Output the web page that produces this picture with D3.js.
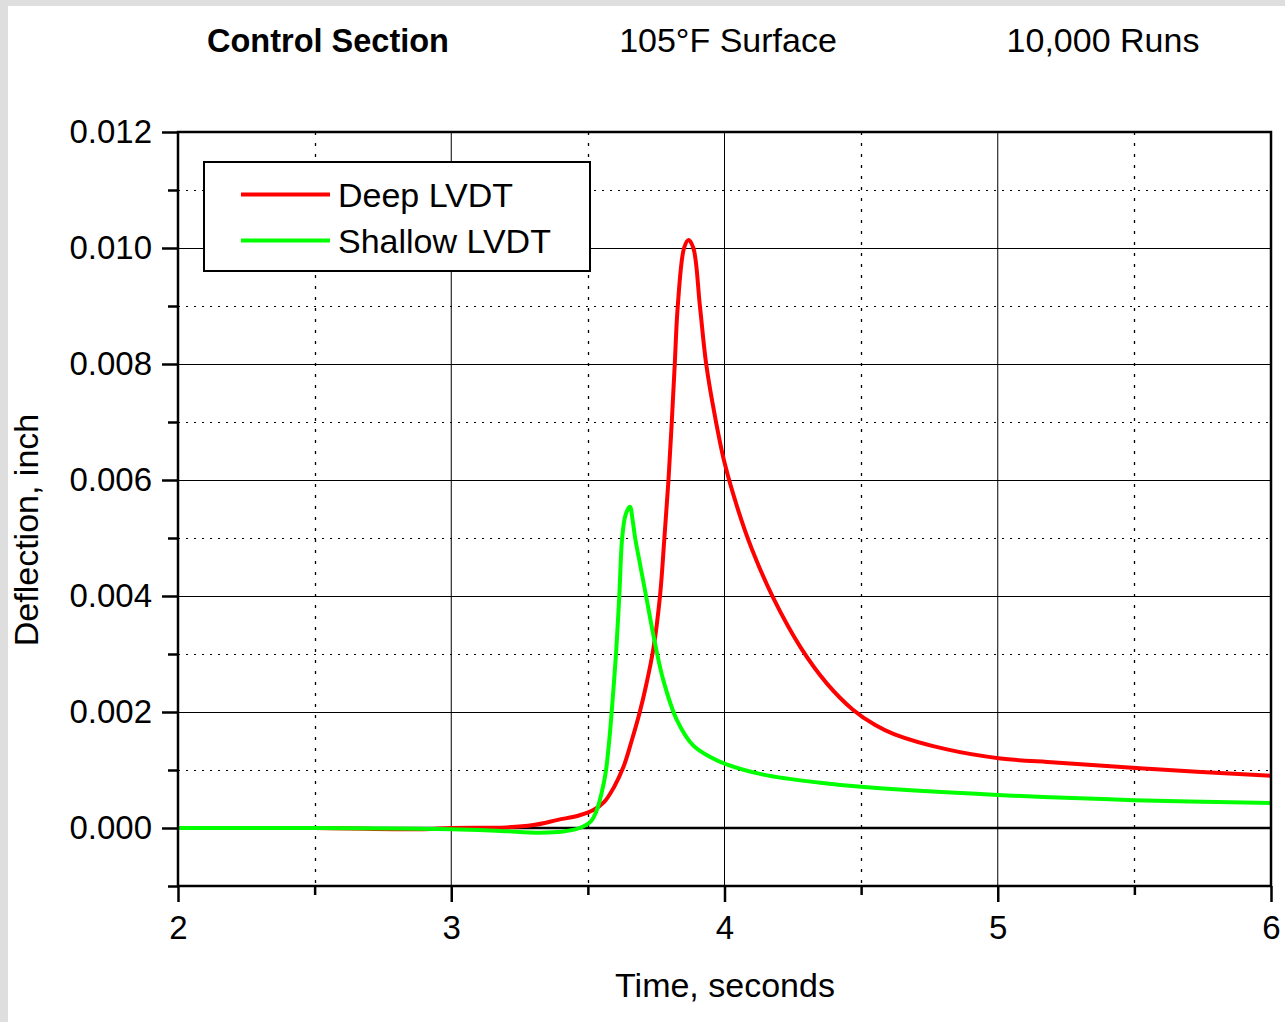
<!DOCTYPE html>
<meta charset="utf-8">
<html>
<head>
    <script src="https://cdnjs.cloudflare.com/ajax/libs/d3/7.8.5/d3.min.js"></script>
    <style type="text/css">
    body {
        margin: 0;
        background-color: #dedede;
        overflow: hidden;
    }
    svg text {
        font-family: "Liberation Sans", Arial, sans-serif;
        font-size: 34px;
        fill: #000;
    }
    </style>
</head>
<body>
<script type="text/javascript">

    // time (s) and deflection (inch)
    var deepTime = [2.0, 2.5, 2.9, 3.0, 3.2, 3.3, 3.39, 3.47, 3.52, 3.56, 3.595, 3.63, 3.66, 3.69, 3.715,
                    3.74, 3.764, 3.78, 3.795, 3.807, 3.818, 3.829, 3.852, 3.868, 3.886, 3.91, 3.933, 3.965,
                    4.0, 4.05, 4.10, 4.177, 4.279, 4.375, 4.47, 4.55, 4.62, 4.81, 5.01, 5.21, 5.52, 6.0];
    var deepDefl = [0, 0, -0.00002, 0, 0.00001, 0.00005, 0.00014, 0.00022, 0.00031, 0.00045, 0.0007, 0.00105, 0.0015, 0.002, 0.0025,
                    0.0031, 0.004, 0.005, 0.006, 0.007, 0.008, 0.009, 0.0100, 0.01014, 0.0100, 0.0090, 0.0080, 0.0071,
                    0.0063, 0.00548, 0.00481, 0.00398, 0.00311, 0.00249, 0.00204, 0.00178, 0.00162, 0.00136, 0.0012, 0.00113, 0.00103, 0.0009];

    var shallowTime = [2.0, 2.5, 3.0, 3.18, 3.325, 3.41, 3.47, 3.51, 3.532, 3.55, 3.565, 3.58, 3.592, 3.603, 3.615,
                       3.6255, 3.638, 3.654, 3.664, 3.673, 3.69, 3.713, 3.745, 3.776, 3.825, 3.886, 3.95, 4.0,
                       4.142, 4.35, 4.5, 5.0, 5.5, 6.0];
    var shallowDefl = [0, 0, -0.00002, -0.00005, -0.00008, -0.00006, 0, 0.00011, 0.0003, 0.0006, 0.00095, 0.0016, 0.0023, 0.003, 0.004,
                       0.005, 0.0054, 0.00554, 0.0053, 0.005, 0.00457, 0.004, 0.0032, 0.00255, 0.00187, 0.00142, 0.00122, 0.00111,
                       0.00092, 0.00078, 0.00071, 0.00057, 0.00048, 0.00043];

    var seriesNames = ["Deep LVDT", "Shallow LVDT"];
    var seriesColors = ["#ff0000", "#00ff00"];

    var xMajor = [2, 3, 4, 5, 6];
    var xMinor = [2.5, 3.5, 4.5, 5.5];
    var yMajor = [0, 0.002, 0.004, 0.006, 0.008, 0.010, 0.012];
    var yMinor = [-0.001, 0.001, 0.003, 0.005, 0.007, 0.009, 0.011];

    var titles = ["Control Section", "105°F Surface", "10,000 Runs"];

    var width = 1285, height = 1022;
    var pLeft = 178, pRight = 1271, pTop = 132, pBottom = 886;

    var svg = d3.select("body")
                .append("svg")
                .attr("width", width)
                .attr("height", height);

    svg.append("rect")
       .attr("x", 8).attr("y", 6)
       .attr("width", width).attr("height", height)
       .attr("fill", "#fff");

    var x = d3.scaleLinear().domain([2, 6]).range([pLeft, pRight]);
    var y = d3.scaleLinear().domain([-0.001, 0.012]).range([pBottom, pTop]);

    // grid
    var grid = svg.append("g").attr("class", "grid");
    grid.selectAll(".hmaj")
        .data(yMajor.filter(function(d) { return d > 0 && d < 0.012; }))
        .enter().append("line")
        .attr("x1", pLeft).attr("x2", pRight)
        .attr("y1", function(d) { return Math.round(y(d)) + 0.5; })
        .attr("y2", function(d) { return Math.round(y(d)) + 0.5; })
        .attr("stroke", "#000").attr("stroke-width", 1);
    grid.selectAll(".hmin")
        .data(yMinor.filter(function(d) { return d > 0; }))
        .enter().append("line")
        .attr("x1", pLeft).attr("x2", pRight)
        .attr("y1", function(d) { return Math.round(y(d)) + 0.5; })
        .attr("y2", function(d) { return Math.round(y(d)) + 0.5; })
        .attr("stroke", "#000").attr("stroke-width", 1)
        .attr("stroke-dasharray", "2,6");
    grid.selectAll(".vmaj")
        .data(xMajor.filter(function(d) { return d > 2 && d < 6; }))
        .enter().append("line")
        .attr("y1", pTop).attr("y2", pBottom)
        .attr("x1", function(d) { return x(d); })
        .attr("x2", function(d) { return x(d); })
        .attr("stroke", "#000").attr("stroke-width", 1);
    grid.selectAll(".vmin")
        .data(xMinor)
        .enter().append("line")
        .attr("y1", pTop).attr("y2", pBottom)
        .attr("x1", function(d) { return Math.round(x(d)) + 0.5; })
        .attr("x2", function(d) { return Math.round(x(d)) + 0.5; })
        .attr("stroke", "#000").attr("stroke-width", 1.3)
        .attr("stroke-dasharray", "3,8");

    // zero line
    svg.append("line")
       .attr("x1", pLeft).attr("x2", pRight)
       .attr("y1", y(0)).attr("y2", y(0))
       .attr("stroke", "#000").attr("stroke-width", 2.5);

    // curves
    svg.append("clipPath").attr("id", "clip")
       .append("rect").attr("x", pLeft).attr("y", pTop)
       .attr("width", pRight - pLeft).attr("height", pBottom - pTop);

    var line = d3.line()
                 .x(function(d) { return x(d[0]); })
                 .y(function(d) { return y(d[1]); })
                 .curve(d3.curveCatmullRom.alpha(0.5));

    var series = [d3.zip(deepTime, deepDefl), d3.zip(shallowTime, shallowDefl)];

    svg.append("g").attr("clip-path", "url(#clip)")
       .selectAll("path")
       .data(series)
       .enter().append("path")
       .attr("d", line)
       .attr("fill", "none")
       .attr("stroke", function(d, i) { return seriesColors[i]; })
       .attr("stroke-width", 4)
       .attr("stroke-linejoin", "round");

    // axes
    var yAxis = d3.axisLeft(y).tickValues(yMajor).tickSize(16).tickSizeOuter(0)
                  .tickPadding(10).tickFormat(d3.format(".3f"));
    var yAxisMinor = d3.axisLeft(y).tickValues(yMinor).tickSize(10).tickSizeOuter(0).tickFormat("");
    var xAxis = d3.axisBottom(x).tickValues(xMajor).tickSize(16).tickSizeOuter(0)
                  .tickPadding(14).tickFormat(d3.format("d"));
    var xAxisMinor = d3.axisBottom(x).tickValues(xMinor).tickSize(9).tickSizeOuter(0).tickFormat("");

    function styleAxis(g) {
        g.select(".domain").remove();
        g.selectAll("line").attr("stroke", "#000").attr("stroke-width", 2.5);
        g.selectAll("text").style("font-size", "33px")
         .style("font-family", "'Liberation Sans', Arial, sans-serif");
    }

    svg.append("g").attr("transform", "translate(" + pLeft + ",0)").call(yAxis).call(styleAxis);
    svg.append("g").attr("transform", "translate(" + pLeft + ",0)").call(yAxisMinor).call(styleAxis);
    svg.append("g").attr("transform", "translate(0," + pBottom + ")").call(xAxis).call(styleAxis);
    svg.append("g").attr("transform", "translate(0," + pBottom + ")").call(xAxisMinor).call(styleAxis);

    // frame
    svg.append("rect")
       .attr("x", pLeft).attr("y", pTop)
       .attr("width", pRight - pLeft).attr("height", pBottom - pTop)
       .attr("fill", "none")
       .attr("stroke", "#000").attr("stroke-width", 2.5);

    // legend
    var legend = svg.append("g").attr("transform", "translate(204,162)");
    legend.append("rect")
          .attr("width", 386).attr("height", 109)
          .attr("fill", "#fff")
          .attr("stroke", "#000").attr("stroke-width", 2);
    var item = legend.selectAll(".item")
                     .data(seriesNames)
                     .enter().append("g")
                     .attr("transform", function(d, i) { return "translate(0," + (32.5 + i * 46) + ")"; });
    item.append("line")
        .attr("x1", 37).attr("x2", 126)
        .attr("stroke", function(d, i) { return seriesColors[i]; })
        .attr("stroke-width", 4);
    item.append("text")
        .attr("x", 134).attr("y", 12)
        .text(function(d) { return d; });

    // titles
    svg.append("text").attr("x", 207).attr("y", 52)
       .style("font-weight", "bold").style("font-size", "32.5px").text(titles[0]);
    svg.append("text").attr("x", 728).attr("y", 52)
       .attr("text-anchor", "middle").text(titles[1]);
    svg.append("text").attr("x", 1103).attr("y", 52)
       .attr("text-anchor", "middle").text(titles[2]);

    // axis titles
    svg.append("text")
       .attr("x", 725).attr("y", 997)
       .attr("text-anchor", "middle")
       .text("Time, seconds");
    svg.append("text")
       .attr("transform", "translate(38,530) rotate(-90)")
       .attr("text-anchor", "middle")
       .text("Deflection, inch");

</script>
</body>
</html>
